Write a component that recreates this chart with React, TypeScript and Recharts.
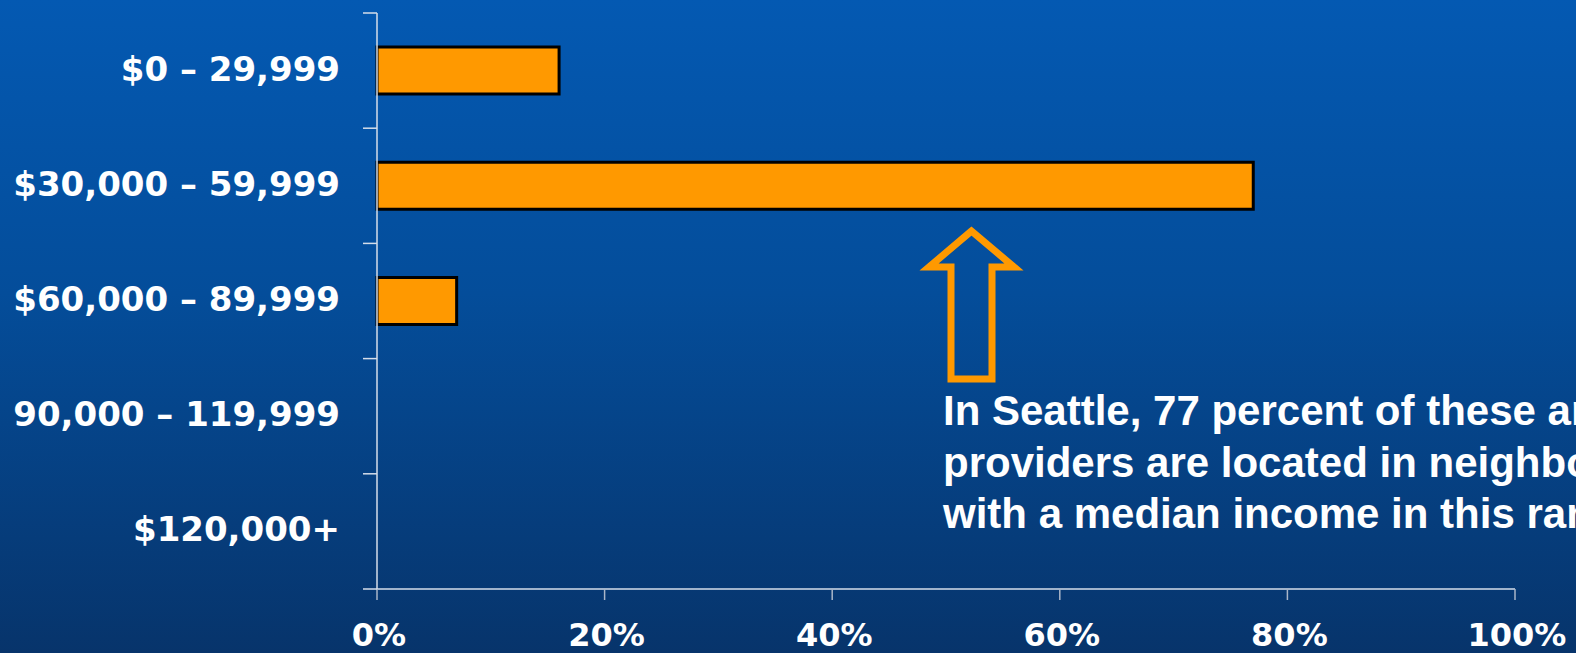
import React from 'react';
import { BarChart, Bar, XAxis, YAxis } from 'recharts';

// income ranges of the neighborhoods, top to bottom
const incomeRanges = ['$0 – 29,999', '$30,000 – 59,999', '$60,000 – 89,999', '90,000 – 119,999', '$120,000+'];
// share of providers (%) per range
const providerShare = [16, 77, 7, 0, 0];
const percentTicks = [0, 20, 40, 60, 80, 100];
const noteLines = [
  'In Seattle, 77 percent of these area',
  'providers are located in neighborhoods',
  'with a median income in this range',
];

const W = 1576;
const H = 653;
const AXIS_COLOR = '#d6deea';
const LABEL_FONT = 'Verdana, "DejaVu Sans", sans-serif';

const data = incomeRanges.map((label, i) => ({ label, share: providerShare[i] }));

const IncomeTick = (props: any) => {
  const { x, y, payload, index } = props;
  const half = payload?.offset || 57.6;
  return (
    <g>
      <line x1={x - 14} x2={x} y1={y - half} y2={y - half} stroke={AXIS_COLOR} strokeWidth={1.5} />
      {index === incomeRanges.length - 1 && (
        <line x1={x - 14} x2={x} y1={y + half} y2={y + half} stroke={AXIS_COLOR} strokeWidth={1.5} />
      )}
      <text
        x={x - 37}
        y={y + 10}
        textAnchor="end"
        fill="#ffffff"
        fontFamily={LABEL_FONT}
        fontWeight="bold"
        fontSize={34}
      >
        {payload.value}
      </text>
    </g>
  );
};

const PercentTick = (props: any) => {
  const { x, y, payload } = props;
  return (
    <text
      x={x + 2}
      y={y + 44}
      textAnchor="middle"
      fill="#ffffff"
      fontFamily={LABEL_FONT}
      fontWeight="bold"
      fontSize={32}
    >
      {`${payload.value}%`}
    </text>
  );
};

const App: React.FC = () => {
  return (
    <div
      style={{
        position: 'absolute',
        left: 0,
        top: 0,
        width: W,
        height: H,
        overflow: 'hidden',
        background: 'linear-gradient(180deg, #0459b2 0%, #044d9a 45%, #07346b 100%)',
      }}
    >
      <BarChart
        width={W}
        height={H}
        data={data}
        layout="vertical"
        margin={{ top: 13, right: 61, left: 0, bottom: 0 }}
        barSize={47}
      >
        <XAxis
          type="number"
          domain={[0, 100]}
          ticks={percentTicks}
          height={64}
          axisLine={{ stroke: AXIS_COLOR, strokeWidth: 1.5 }}
          tickLine={{ stroke: '#aab6c8', strokeWidth: 1.5 }}
          tickSize={11}
          tick={<PercentTick />}
          interval={0}
        />
        <YAxis
          type="category"
          dataKey="label"
          width={377}
          axisLine={{ stroke: AXIS_COLOR, strokeWidth: 1.5 }}
          tickLine={false}
          tickSize={0}
          tickMargin={0}
          tick={<IncomeTick />}
          interval={0}
        />
        <Bar dataKey="share" fill="#ff9900" stroke="#000000" strokeWidth={3} isAnimationActive={false} />
      </BarChart>

      <svg
        width={W}
        height={H}
        style={{ position: 'absolute', left: 0, top: 0, pointerEvents: 'none' }}
      >
        <polygon
          points="971.5,231 929,267 951,267 951,379 992,379 992,267 1014,267"
          fill="none"
          stroke="#ff9900"
          strokeWidth={7}
          strokeLinejoin="miter"
        />
        {noteLines.map((line, i) => (
          <text
            key={line}
            x={943}
            y={425 + i * 51.5}
            fill="#ffffff"
            fontFamily='"Liberation Sans", Arial, sans-serif'
            fontWeight="bold"
            fontSize={42}
          >
            {line}
          </text>
        ))}
      </svg>
    </div>
  );
};

export default App;
